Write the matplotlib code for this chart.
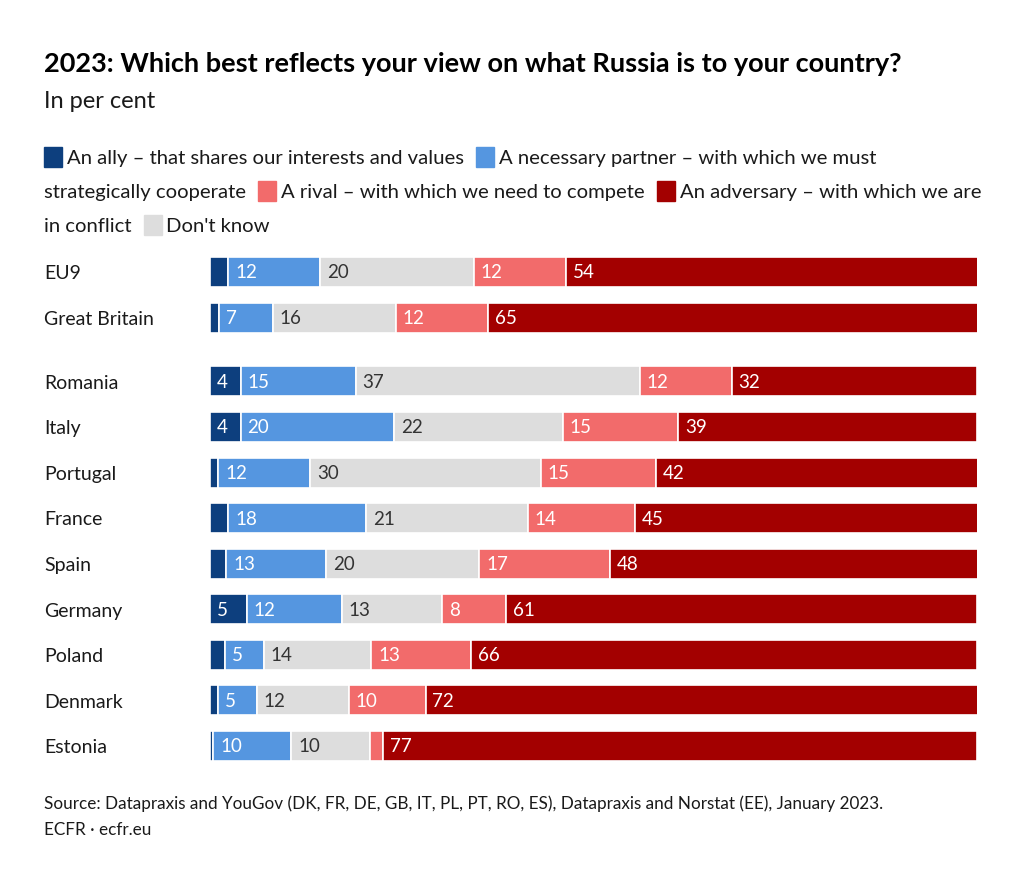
import matplotlib.pyplot as plt
import numpy as np

plt.rcParams['font.family'] = ['Lato', 'DejaVu Sans']

countries = ["EU9", "Great Britain", "Romania", "Italy", "Portugal", "France",
             "Spain", "Germany", "Poland", "Denmark", "Estonia"]
ally = [2.4, 1.2, 4, 4, 1.1, 2.4, 2.1, 4.8, 2, 1.1, 0.4]
partner = [12, 7, 15, 20, 12, 18, 13, 12.4, 5, 5, 10.2]
dont_know = [20, 16, 37, 22, 30, 21, 20, 13.1, 14, 12, 10.2]
rival = [12, 12, 12, 15, 15, 14, 17, 8.3, 13, 10, 1.8]
adversary = [54, 65, 32, 39, 42, 45, 48, 61.4, 66, 72, 77.4]

series = [ally, partner, dont_know, rival, adversary]
colors = ["#0d3f7e", "#5596e0", "#dddddd", "#f26b6b", "#a30000"]
text_colors = ["white", "white", "#333333", "white", "white"]

W, H = 1024, 883
fig = plt.figure(figsize=(W / 100, H / 100), dpi=100)

# bar area in pixels: x 210..977, y 257..761
ax = fig.add_axes([210 / W, 1 - 761 / H, (977 - 210) / W, (761 - 257) / H])
n = len(countries)
ypos = np.arange(n) + np.where(np.arange(n) >= 2, 0.4, 0.0)

left = np.zeros(n)
for vals, col, tcol in zip(series, colors, text_colors):
    vals = np.array(vals, dtype=float)
    ax.barh(ypos, vals, left=left, height=0.66, color=col,
            edgecolor="white", linewidth=1.2)
    for y, l, v in zip(ypos, left, vals):
        if v >= 3:
            ax.text(l + 0.9, y + 0.02, f"{round(v)}", ha="left", va="center",
                    color=tcol, fontsize=13.5)
    left += vals

ax.set_xlim(0, 100)
ax.set_ylim(ypos[-1] + 0.33, -0.33)
ax.axis("off")

for y, c in zip(ypos, countries):
    ax.text(-(210 - 44) / 7.67, y + 0.04, c, ha="left", va="center",
            fontsize=14, color="#1a1a1a")

# title and subtitle
fig.text(44 / W, 1 - 72 / H,
         "2023: Which best reflects your view on what Russia is to your country?",
         fontsize=19.5, fontweight="bold", color="black", va="baseline")
fig.text(44 / W, 1 - 108 / H, "In per cent", fontsize=17, color="#1a1a1a",
         va="baseline")

# legend laid out as flowing text, wrapping like the original
renderer = fig.canvas.get_renderer()
legend_lines = [
    [(0, "An ally – that shares our interests and values"),
     (1, "A necessary partner – with which we must")],
    [(None, "strategically cooperate"),
     (3, "A rival – with which we need to compete"),
     (4, "An adversary – with which we are")],
    [(None, "in conflict"), (2, "Don't know")],
]
baselines = [164, 198, 232]
for line, base in zip(legend_lines, baselines):
    x = 44
    for idx, label in line:
        if idx is not None:
            fig.patches.append(plt.Rectangle((x / W, 1 - (base + 3) / H),
                                             18 / W, 20 / H,
                                             transform=fig.transFigure,
                                             color=colors[idx]))
            x += 23
        t = fig.text(x / W, 1 - base / H, label, fontsize=14.6,
                     color="#1a1a1a", va="baseline")
        x += t.get_window_extent(renderer).width + 12

fig.text(44 / W, 1 - 809 / H,
         "Source: Datapraxis and YouGov (DK, FR, DE, GB, IT, PL, PT, RO, ES), "
         "Datapraxis and Norstat (EE), January 2023.",
         fontsize=12.3, color="#1a1a1a", va="baseline")
fig.text(44 / W, 1 - 835 / H, "ECFR · ecfr.eu", fontsize=12.3,
         color="#1a1a1a", va="baseline")

fig.savefig("out.png", dpi=100, facecolor="white")
